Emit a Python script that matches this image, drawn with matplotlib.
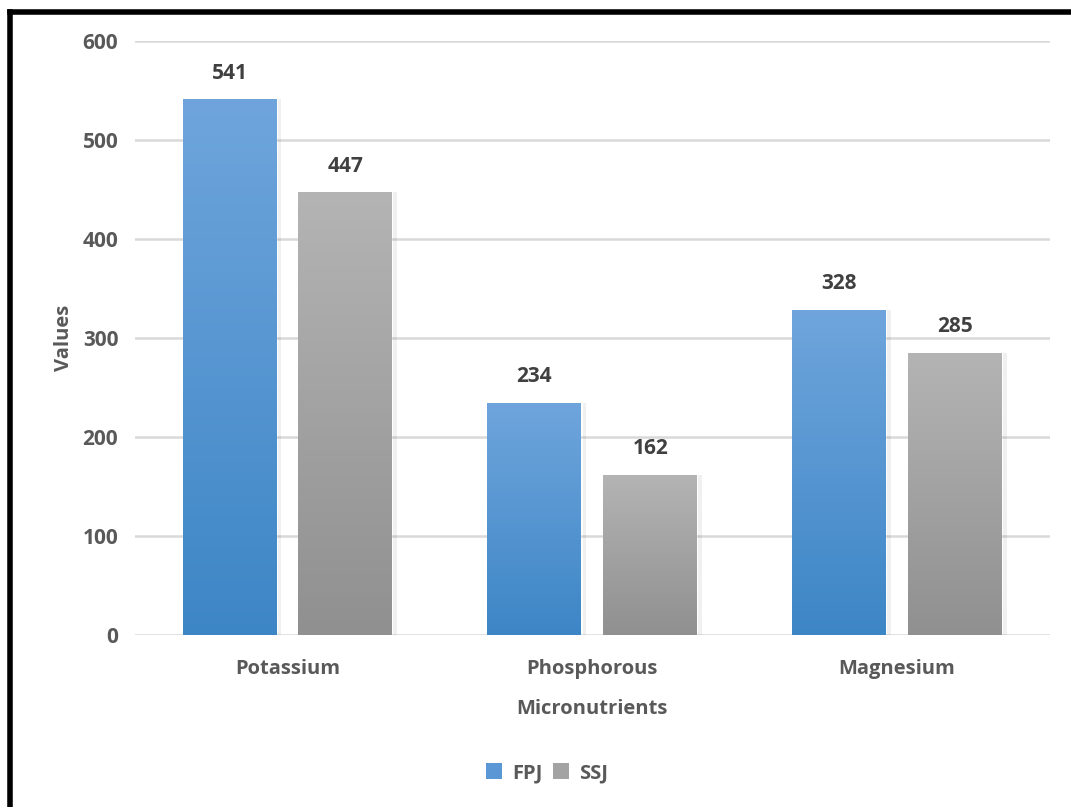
import numpy as np
import matplotlib
matplotlib.use("Agg")
import matplotlib.pyplot as plt
from matplotlib.colors import LinearSegmentedColormap
from matplotlib.lines import Line2D
from matplotlib.patches import Patch

# Data
categories = ["Potassium", "Phosphorous", "Magnesium"]
fpj_values = [541, 234, 328]
ssj_values = [447, 162, 285]
series_names = ["FPJ", "SSJ"]
y_ticks = [0, 100, 200, 300, 400, 500, 600]

plt.rcParams["font.family"] = ["Open Sans", "DejaVu Sans"]
text_color = "#595959"

fig = plt.figure(figsize=(10.71, 8.07), dpi=100)
ax = fig.add_axes([0.126, 0.2131, 0.854, 0.7361])

x = np.arange(len(categories))
width = 0.308
offset = 0.19

blue_cmap = LinearSegmentedColormap.from_list("blue", ["#3d86c6", "#6fa5dc"])
gray_cmap = LinearSegmentedColormap.from_list("gray", ["#909090", "#b4b4b4"])


def gradient_bars(xpos, values, cmap, label):
    bars = ax.bar(xpos, values, width, color="none", edgecolor="none",
                  label=label, zorder=3)
    grad = np.linspace(0, 1, 256).reshape(-1, 1)
    for b in bars:
        x0, y0 = b.get_x(), b.get_y()
        w, h = b.get_width(), b.get_height()
        # soft shadow on the right edge
        ax.bar(x0 + w + 0.004, h, 0.012, align="edge",
               color="#000000", alpha=0.06, zorder=2, linewidth=0)
        im = ax.imshow(grad, cmap=cmap, origin="lower", aspect="auto",
                       extent=[x0, x0 + w, y0, y0 + h], zorder=3)
        im.set_clip_path(b)
    return bars


bars_fpj = gradient_bars(x - offset, fpj_values, blue_cmap, series_names[0])
bars_ssj = gradient_bars(x + offset, ssj_values, gray_cmap, series_names[1])

for bars, vals in ((bars_fpj, fpj_values), (bars_ssj, ssj_values)):
    for b, v in zip(bars, vals):
        ax.annotate(f"{v}", (b.get_x() + b.get_width() / 2, v),
                    xytext=(0, 19), textcoords="offset points",
                    ha="center", va="center", fontsize=15,
                    fontweight="bold", color="#404040")

ax.set_xlim(-0.5, 2.5)
ax.set_ylim(0, 600)
ax.set_yticks(y_ticks)
ax.set_xticks(x)
ax.set_xticklabels(categories)
ax.tick_params(axis="both", length=0, labelcolor=text_color)
ax.tick_params(axis="y", pad=12, labelsize=15)
ax.tick_params(axis="x", pad=17, labelsize=14.5)
for lbl in ax.get_xticklabels() + ax.get_yticklabels():
    lbl.set_fontweight("bold")

ax.grid(axis="y", color="#d9d9d9", linewidth=1.8, zorder=0)
ax.set_axisbelow(True)
for s in ax.spines.values():
    s.set_visible(False)

ax.set_xlabel("Micronutrients", fontsize=14.5, fontweight="bold",
              color=text_color, labelpad=15)
ax.set_ylabel("Values", fontsize=14.5, fontweight="bold",
              color=text_color, labelpad=6)

handles = [Patch(facecolor="#5a97d4", edgecolor="none"),
           Patch(facecolor="#a3a3a3", edgecolor="none")]
leg = fig.legend(handles, series_names, loc="center",
                 bbox_to_anchor=(0.511, 0.042), ncol=2, frameon=False,
                 handlelength=0.8, handleheight=0.8, handletextpad=0.5,
                 columnspacing=0.5,
                 prop={"size": 14.5, "weight": "bold"})
for t in leg.get_texts():
    t.set_color(text_color)

# Black frame along the top and left of the figure
fig.add_artist(Line2D([0.0098, 1.0], [0.9855, 0.9855], color="black",
                      linewidth=4, transform=fig.transFigure))
fig.add_artist(Line2D([0.0098, 0.0098], [0.0, 0.9855], color="black",
                      linewidth=4, transform=fig.transFigure))

fig.savefig("out.png", dpi=100, facecolor="white")
